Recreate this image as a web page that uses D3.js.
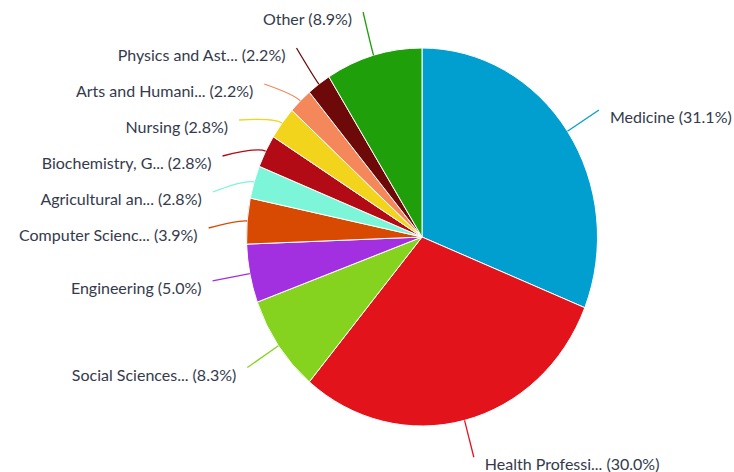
<!DOCTYPE html>
<html>
<head>
<meta charset="utf-8">
<script src="https://cdn.jsdelivr.net/npm/d3@7"></script>
<style>
  body { margin: 0; background: #fff; }
  text { font-family: Lato, "Open Sans", sans-serif; font-size: 16px; fill: #343a4c; }
</style>
</head>
<body>
<svg id="chart" width="734" height="472"></svg>
<script>
const categories = ['Medicine', 'Health Professi...', 'Social Sciences...', 'Engineering',
  'Computer Scienc...', 'Agricultural an...', 'Biochemistry, G...', 'Nursing',
  'Arts and Humani...', 'Physics and Ast...', 'Other'];
const shares = [31.1, 30.0, 8.3, 5.0, 3.9, 2.8, 2.8, 2.8, 2.2, 2.2, 8.9];
const colors = ['#009fd0', '#e3131c', '#86d31f', '#a230e0', '#d84a02', '#7df5d9',
  '#b20b15', '#f3d41d', '#f4885a', '#6d0909', '#1fa00b'];

const svg = d3.select('#chart');
const cx = 422, cy = 237, rx = 175.5, ry = 189;
const dist = 38, gap = 36, topLimit = 12;

const pie = d3.pie().sort(null).value(d => d.v);
const arcs = pie(categories.map((c, i) => ({name: c, v: shares[i], color: colors[i]})));

const arc = d3.arc().innerRadius(0).outerRadius(ry);

svg.append('g')
    .attr('transform', `translate(${cx},${cy}) scale(${rx / ry},1)`)
  .selectAll('path')
  .data(arcs)
  .join('path')
    .attr('d', arc)
    .attr('fill', d => d.data.color)
    .attr('stroke', '#fff')
    .attr('stroke-width', 1)
    .attr('vector-effect', 'non-scaling-stroke');

// label layout
function onEllipse(a, extra) {
  return [cx + (rx + extra) * Math.sin(a), cy - (ry + extra) * Math.cos(a)];
}
const labels = arcs.map(d => {
  const a = (d.startAngle + d.endAngle) / 2;
  const nat = onEllipse(a, dist);
  return {d, a, left: nat[0] < cx, natX: nat[0], y: nat[1]};
});

function distribute(list) {
  list.sort((p, q) => p.y - q.y);
  let clusters = list.map(l => ({items: [l], mean: l.y}));
  let merged = true;
  const place = c => {
    c.start = Math.max(c.mean - (c.items.length - 1) * gap / 2, topLimit);
  };
  clusters.forEach(place);
  while (merged) {
    merged = false;
    for (let i = 0; i < clusters.length - 1; i++) {
      const a = clusters[i], b = clusters[i + 1];
      if (a.start + a.items.length * gap > b.start) {
        const items = a.items.concat(b.items);
        const c = {items, mean: d3.mean(items, l => l.y)};
        place(c);
        clusters.splice(i, 2, c);
        merged = true;
        break;
      }
    }
  }
  clusters.forEach(c => c.items.forEach((l, k) => { l.ly = c.start + k * gap; }));
}
distribute(labels.filter(l => l.left));
distribute(labels.filter(l => !l.left));

labels.forEach(l => {
  const dy = (l.ly - cy) / (ry + dist);
  const ex = (rx + dist) * Math.sqrt(Math.max(0, 1 - dy * dy));
  l.lx = l.left ? Math.min(cx - ex, l.natX) : Math.max(cx + ex, l.natX);
});

// soft connector from the label end into the slice edge
const lineGen = l => {
  const edge = onEllipse(l.a, 0);
  const ctrl = onEllipse(l.a, 9);
  return `M${l.lx},${l.ly}Q${ctrl[0]},${ctrl[1]} ${edge[0]},${edge[1]}`;
};

svg.append('g').selectAll('path')
  .data(labels)
  .join('path')
    .attr('d', lineGen)
    .attr('fill', 'none')
    .attr('stroke', l => l.d.data.color)
    .attr('stroke-width', 1.3);

svg.append('g').selectAll('text')
  .data(labels)
  .join('text')
    .attr('x', l => l.left ? l.lx - 11 : l.lx + 11)
    .attr('y', l => l.ly + 13)
    .attr('text-anchor', l => l.left ? 'end' : 'start')
    .text(l => `${l.d.data.name} (${l.d.data.v.toFixed(1)}%)`);
</script>
</body>
</html>
